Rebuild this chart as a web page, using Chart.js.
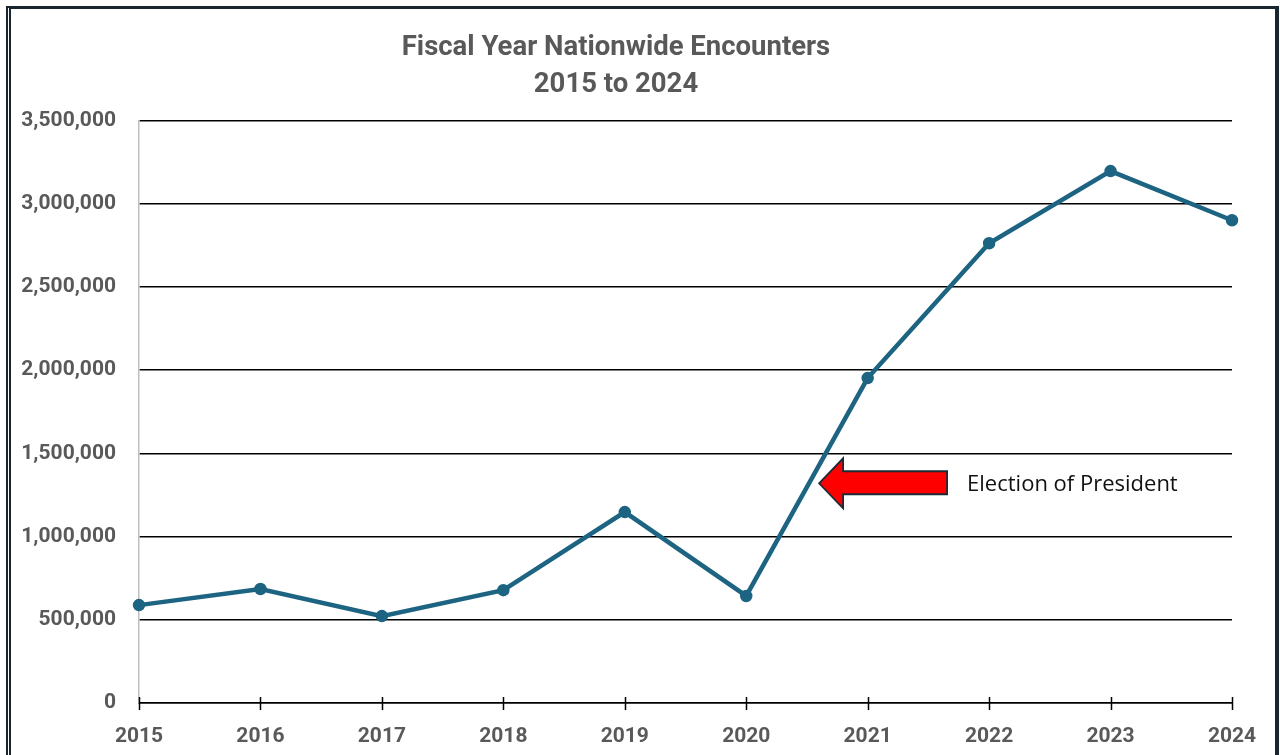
<!DOCTYPE html>
<html>
<head>
<meta charset="utf-8">
<script src="https://cdn.jsdelivr.net/npm/chart.js@4.4.1/dist/chart.umd.min.js"></script>
<style>
  html, body { margin: 0; padding: 0; background: #ffffff; overflow: hidden; }
  #wrap { position: relative; width: 1280px; height: 755px; }
  #frame {
    position: absolute; left: 6px; top: 6px; width: 1264px; height: 800px;
    border-top: 3px solid #17262f; border-right: 4px solid #17262f;
    border-left: 5px double #17262f; pointer-events: none;
  }
</style>
</head>
<body>
<div id="wrap">
  <canvas id="c" width="1280" height="755"></canvas>
  <div id="frame"></div>
</div>
<script>
const years = ['2015','2016','2017','2018','2019','2020','2021','2022','2023','2024'];
const encounters = [588000, 685000, 522000, 678000, 1147000, 643000, 1952000, 2762000, 3195000, 2900000];
const titleLines = ['Fiscal Year Nationwide Encounters', '2015 to 2024'];
const yTicks = [0, 500000, 1000000, 1500000, 2000000, 2500000, 3000000, 3500000];
const annotationText = 'Election of President';
const annotationAt = { x: 5.6, y: 1320000 };

const labelColor = '#595959';
const lineColor = '#1d6482';

const overlay = {
  id: 'overlay',
  afterDraw(chart) {
    const ctx = chart.ctx;
    const xs = chart.scales.x, ys = chart.scales.y;
    const y0 = ys.getPixelForValue(0);
    ctx.save();
    ctx.strokeStyle = '#000';
    ctx.lineWidth = 1.5;
    years.forEach((_, i) => {
      const px = Math.round(xs.getPixelForValue(i)) + 0.5;
      ctx.beginPath();
      ctx.moveTo(px, y0 - 6);
      ctx.lineTo(px, y0 + 7);
      ctx.stroke();
    });
    const tx = xs.getPixelForValue(annotationAt.x);
    const ty = ys.getPixelForValue(annotationAt.y);
    ctx.beginPath();
    ctx.moveTo(tx, ty);
    ctx.lineTo(tx + 24, ty - 25);
    ctx.lineTo(tx + 24, ty - 12);
    ctx.lineTo(tx + 128, ty - 12);
    ctx.lineTo(tx + 128, ty + 11);
    ctx.lineTo(tx + 24, ty + 11);
    ctx.lineTo(tx + 24, ty + 25);
    ctx.closePath();
    ctx.fillStyle = '#ff0000';
    ctx.fill();
    ctx.strokeStyle = '#1b2b36';
    ctx.lineWidth = 1.8;
    ctx.lineJoin = 'miter';
    ctx.stroke();
    ctx.fillStyle = '#111111';
    ctx.font = '22px "Open Sans", Roboto, sans-serif';
    ctx.textBaseline = 'middle';
    ctx.textAlign = 'left';
    ctx.fillText(annotationText, tx + 148, ty + 1);
    ctx.restore();
  }
};

new Chart(document.getElementById('c'), {
  type: 'line',
  data: {
    labels: years,
    datasets: [{
      data: encounters,
      borderColor: lineColor,
      backgroundColor: lineColor,
      borderWidth: 4.5,
      pointRadius: 4,
      pointBackgroundColor: lineColor,
      pointBorderColor: lineColor,
      tension: 0,
      fill: false
    }]
  },
  options: {
    responsive: false,
    animation: false,
    layout: { padding: { left: 0, right: 48, top: 0, bottom: 0 } },
    plugins: {
      legend: { display: false },
      tooltip: { enabled: false },
      title: {
        display: true,
        text: titleLines,
        color: labelColor,
        font: { family: 'Roboto, "Open Sans", sans-serif', size: 27.5, weight: 'bold', lineHeight: 1.37 },
        padding: { top: 29, bottom: 16 }
      }
    },
    scales: {
      x: {
        type: 'category',
        offset: false,
        grid: { display: false },
        border: { display: true, color: '#000', width: 1.5 },
        ticks: {
          color: labelColor,
          font: { family: 'Roboto, "Open Sans", sans-serif', size: 21, weight: 'bold' },
          padding: 13,
          maxRotation: 0
        },
        afterFit(s) { s.height = 52; }
      },
      y: {
        min: 0,
        max: 3500000,
        afterBuildTicks(s) { s.ticks = yTicks.map(v => ({ value: v })); },
        grid: { color: '#000', lineWidth: 1.5, drawTicks: false },
        border: { display: true, color: '#bfbfbf', width: 1.5 },
        ticks: {
          color: labelColor,
          font: { family: 'Roboto, "Open Sans", sans-serif', size: 21, weight: 'bold' },
          padding: 23,
          callback: v => Number(v).toLocaleString('en-US')
        },
        afterFit(s) { s.width = 139; }
      }
    }
  },
  plugins: [overlay]
});
</script>
</body>
</html>
